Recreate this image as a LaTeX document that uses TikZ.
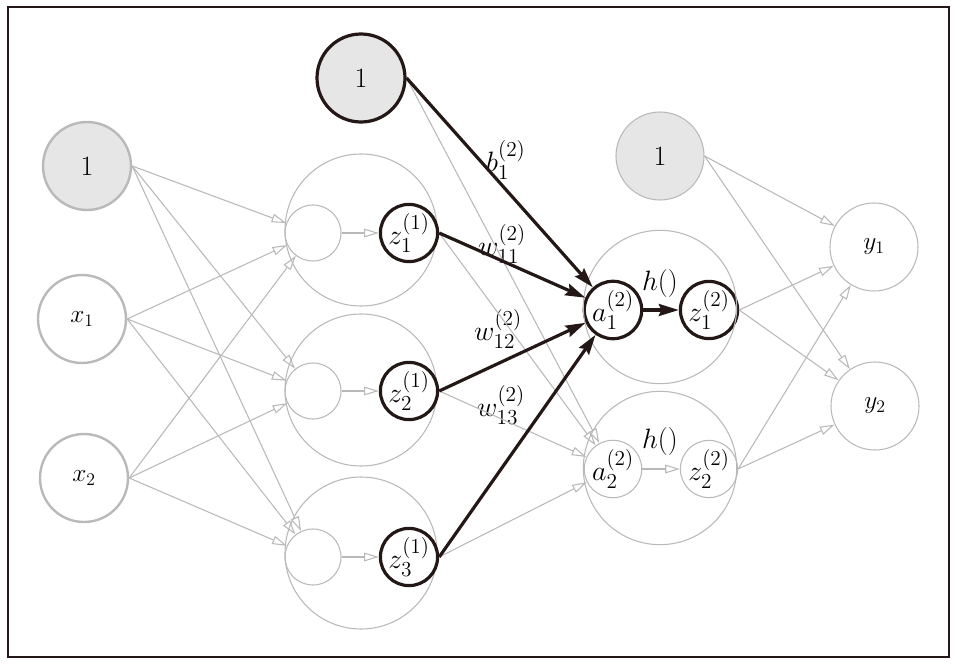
\documentclass[tikz,border=0pt]{standalone}
\usepackage{fix-cm}
\usepackage{xcolor}
\usepackage{tikz}
\usepackage{amsmath}
\usetikzlibrary{arrows.meta, positioning}

\DeclareMathSizes{21}{21}{16}{12}

\definecolor{ink}{RGB}{35,24,21}
\definecolor{lgray}{RGB}{185,185,185}
\definecolor{lfill}{RGB}{230,230,230}

\tikzset{
  big/.style={font=\fontsize{21}{24}\selectfont},
  small/.style={font=\fontsize{19}{22}\selectfont},
  garrow/.style={draw=lgray,line width=0.8pt,-{Triangle[open,length=11pt,width=6.5pt]}},
  karrow/.style={draw=ink,line width=2.4pt,-{Stealth[length=15pt,width=9pt,inset=2pt]}}
}

\begin{document}
\begin{tikzpicture}[x=0.75pt,y=-0.75pt]
        \useasboundingbox (0,0) rectangle (961,667);
        \draw[ink,line width=0.8pt] (8,7) rectangle (949,657);
        % input layer
        \begin{scope}[every node/.style={circle,inner sep=0pt,minimum size=66pt,draw=lgray,line width=1.8pt}]
          \node[fill=lfill,big] (b0) at (87,166) {$1$};
          \node[small] (x1) at (82,319) {$x_1$};
          \node[small] (x2) at (84,478) {$x_2$};
        \end{scope}
        % first hidden layer
        \begin{scope}[every node/.style={circle,inner sep=0pt,draw=lgray,line width=0.8pt}]
          \node[minimum size=114pt] (c1) at (361,230) {};
          \node[minimum size=114pt] (c2) at (361,390) {};
          \node[minimum size=114pt] (c3) at (361,553) {};
          \node[minimum size=42pt] (s1) at (313,233) {};
          \node[minimum size=42pt] (s2) at (313,391) {};
          \node[minimum size=42pt] (s3) at (313,557) {};
        \end{scope}
        \begin{scope}[every node/.style={circle,inner sep=0pt,draw=ink,line width=2.4pt,big}]
          \node[minimum size=66pt,fill=lfill] (b1) at (361,78) {$1$};
          \node[minimum size=42pt] (z1) at (409,233) {$z_1^{(1)}$};
          \node[minimum size=42pt] (z2) at (409,391) {$z_2^{(1)}$};
          \node[minimum size=42pt] (z3) at (409,557) {$z_3^{(1)}$};
          \node[minimum size=42pt] (a1) at (613,310) {$a_1^{(2)}$};
          \node[minimum size=42pt] (u1) at (709,310) {$z_1^{(2)}$};
        \end{scope}
        % second hidden layer and output layer
        \begin{scope}[every node/.style={circle,inner sep=0pt,draw=lgray,line width=0.8pt}]
          \node[minimum size=115pt] (d1) at (660,307) {};
          \node[minimum size=115pt] (d2) at (660,468) {};
          \node[minimum size=42pt,big] (a2) at (613,469) {$a_2^{(2)}$};
          \node[minimum size=42pt,big] (u2) at (709,469) {$z_2^{(2)}$};
          \node[minimum size=66pt,fill=lfill,big] (b2) at (660,156) {$1$};
          \node[minimum size=66pt,small] (y1) at (874,247) {$y_1$};
          \node[minimum size=66pt,small] (y2) at (875,406) {$y_2$};
        \end{scope}
        % labels
        \begin{scope}[every node/.style={inner sep=1pt,big}]
          \node (lb) at (506,160) {$b_1^{(2)}$};
          \node (lw1) at (502,244) {$w_{11}^{(2)}$};
          \node (lw2) at (498,329) {$w_{12}^{(2)}$};
          \node (lw3) at (501,405) {$w_{13}^{(2)}$};
          \node (lh1) at (660,283) {$h()$};
          \node (lh2) at (660,441) {$h()$};
        \end{scope}
        % gray connections
        \begin{scope}[every edge/.style={garrow}]
          \path (b0.east) edge (s1) edge (s2) edge (s3);
          \path (x1.east) edge (s1) edge (s2) edge (s3);
          \path (x2.east) edge (s1) edge (s2) edge (s3);
          \path (s1) edge (z1);
          \path (s2) edge (z2);
          \path (s3) edge (z3);
          \path (b1.east) edge (a2);
          \path (z1.east) edge (a2);
          \path (z2.east) edge (a2);
          \path (z3.east) edge (a2);
          \path (a2) edge (u2);
          \path (b2.east) edge (y1) edge (y2);
          \path (u1.east) edge (y1) edge (y2);
          \path (u2.east) edge (y1) edge (y2);
        \end{scope}
        % highlighted connections
        \begin{scope}[every edge/.style={karrow}]
          \path (b1.east) edge (a1);
          \path (z1.east) edge (a1);
          \path (z2.east) edge (a1);
          \path (z3.east) edge (a1);
          \path (a1) edge (u1);
        \end{scope}
      \end{tikzpicture}
\end{document}
